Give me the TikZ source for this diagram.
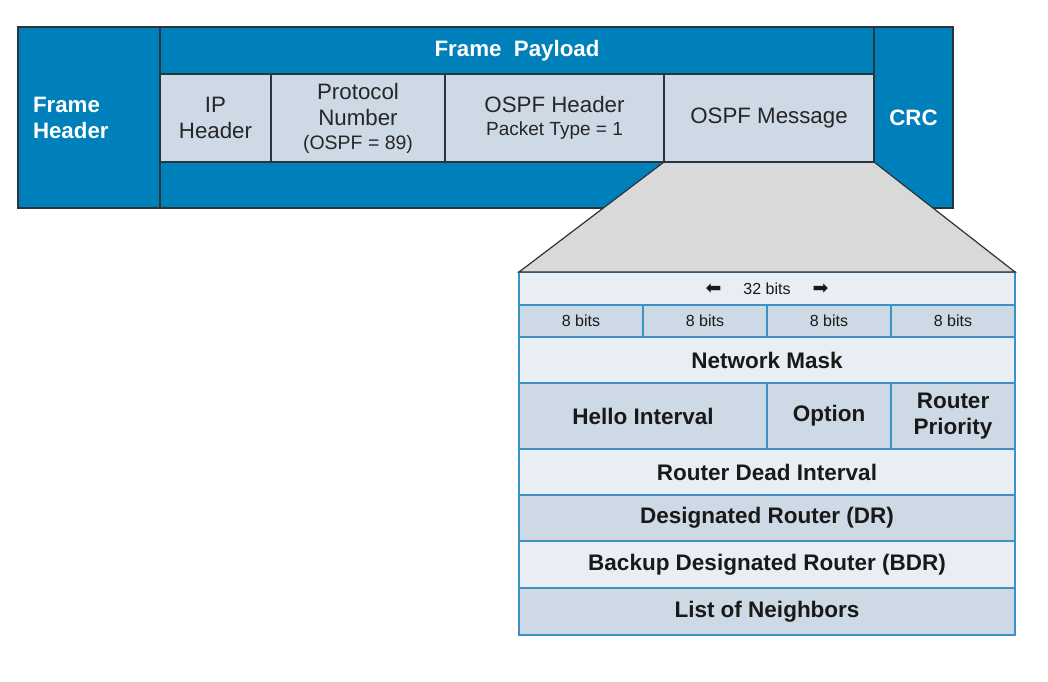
\documentclass[tikz,border=0pt]{standalone}
\usepackage{fontspec}
\setmainfont{Liberation Sans}
\newfontfamily\arrfont{DejaVu Sans}
\usepackage{tikz}

\definecolor{frameblue}{RGB}{0,128,186}
\definecolor{cellgray}{RGB}{205,217,229}
\definecolor{rowlight}{RGB}{233,238,244}
\definecolor{rowdark}{RGB}{205,217,229}
\definecolor{gridblue}{RGB}{60,146,196}
\definecolor{edgedark}{RGB}{40,52,62}
\definecolor{zoomgray}{RGB}{217,217,217}

\begin{document}
\begin{tikzpicture}[x=1pt, y=-1pt,
  box/.style={draw=edgedark, line width=1.2pt, inner sep=0pt, outer sep=0pt, align=center},
  bluebox/.style={box, fill=frameblue, text=white, font=\fontsize{22.3}{26}\selectfont\bfseries},
  lightbox/.style={box, fill=cellgray, text=black!85, font=\fontsize{22.3}{26}\selectfont},
  row/.style={draw=gridblue, line width=1.3pt, inner sep=0pt, outer sep=0pt, align=center,
    text=black!90, font=\fontsize{22.5}{26}\selectfont\bfseries, minimum width=496},
  bitsfont/.style={font=\fontsize{16}{18}\selectfont}]
\useasboundingbox[fill=white] (0,0) rectangle (1048,681);

% frame
\node[bluebox, minimum width=142, minimum height=181, text width=112, align=left] (fh) at (89,117.5) {Frame\\Header};
\node[bluebox, minimum width=714, minimum height=47] (pay) at (517,50.5) {Frame~~Payload};
\node[bluebox, minimum width=714, minimum height=46] (band) at (517,185) {};
\node[bluebox, minimum width=79, minimum height=181] (crc) at (913.5,117.5) {CRC};
\node[lightbox, minimum width=111, minimum height=88] (ip) at (215.5,118) {IP\\Header};
\node[lightbox, minimum width=174, minimum height=88] (proto) at (358,118)
  {Protocol\\Number\\[-2pt]{\fontsize{19.5}{20}\selectfont(OSPF = 89)}};
\node[lightbox, minimum width=219, minimum height=88] (ospfh) at (554.5,118)
  {OSPF Header\\[-3pt]{\fontsize{19}{20}\selectfont Packet Type = 1}};
\node[lightbox, minimum width=210, minimum height=88] (msg) at (769,118) {OSPF Message};

% hello packet
\node[row, fill=rowlight, minimum height=33, bitsfont] (r32) at (767,288.5)
  {{\arrfont\fontsize{19}{18}\selectfont ⬅}\hspace{22pt}32 bits\hspace{22pt}{\arrfont\fontsize{19}{18}\selectfont ➡}};
\foreach \i in {0,...,3}
  \node[row, fill=rowdark, minimum width=124, minimum height=32, bitsfont]
    (b\i) at (581+124*\i,321) {8 bits};
\node[row, fill=rowlight, minimum height=46] (mask) at (767,360) {Network Mask};
\node[row, fill=rowdark, minimum width=248, minimum height=66] (hello) at (643,416) {Hello Interval};
\node[row, fill=rowdark, minimum width=124, minimum height=66] (opt) at (829,416) {Option};
\node[row, fill=rowdark, minimum width=124, minimum height=66] (prio) at (953,416) {Router\\Priority};
\node[row, fill=rowlight, minimum height=46] (dead) at (767,472) {Router Dead Interval};
\node[row, fill=rowdark, minimum height=46] (dr) at (767,518) {Designated Router (DR)};
\node[row, fill=rowlight, minimum height=47] (bdr) at (767,564.5) {Backup Designated Router (BDR)};
\node[row, fill=rowdark, minimum height=47] (nbr) at (767,611.5) {List of Neighbors};

% zoom
\fill[zoomgray] (msg.south west) -- (msg.south east) -- (r32.north east) -- (r32.north west) -- cycle;
\draw[edgedark, line width=1.2pt] (msg.south west) -- (r32.north west) -- (r32.north east) -- (msg.south east);
\draw[edgedark, line width=1.2pt] (msg.south west) -- (msg.south east);
\end{tikzpicture}
\end{document}
